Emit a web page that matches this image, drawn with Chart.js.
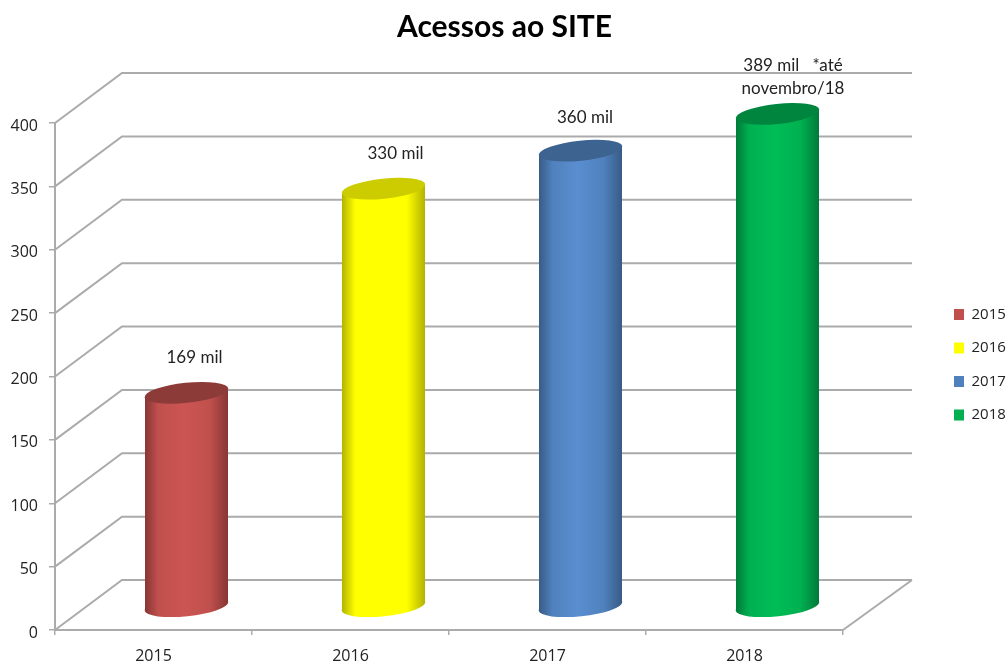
<!DOCTYPE html>
<html><head><meta charset="utf-8">
<style>html,body{margin:0;padding:0;background:#fff}#w{width:1008px;height:664px}</style>
<script src="https://cdn.jsdelivr.net/npm/chart.js@4"></script></head>
<body><div id="w"><canvas id="c" width="1008" height="664"></canvas></div>
<script>
const years = ['2015','2016','2017','2018'];
const values = [169,330,360,389];
const valueLabels = [['169 mil'],['330 mil'],['360 mil'],['389 mil   *até','novembro/18']];
const yTickStep = 50;
const yMax = 400;
const titleText = 'Acessos ao SITE';
const faceColors = ['#C0504D','#FFFF00','#4F81BD','#00B050'];
const lightColors = ['#CC5552','#FFFF00','#5A8ED0','#00BD58'];
const edgeColors = ['#873634','#B3B300','#385B86','#007A3A'];
const capColors = ['#8D3B39','#CCCC00','#3D6390','#00853F'];
const labelShift = [[8,-35],[12,-35],[4.5,-33],[15.5,-48]];

const DX = 67, DY = -50;            // depth of the back wall
const BX = 33, BY = -23;            // depth of the bars
const HALF = 41.5, CAP_A = 42, CAP_B = 10, CAP_ROT = -6*Math.PI/180, CHORD = 4;
const GRID = '#ABABAB', TXT = '#222222';

function sideGrad(ctx, cx, i){
  const g = ctx.createLinearGradient(cx-HALF,0,cx+HALF,0);
  g.addColorStop(0, edgeColors[i]);
  g.addColorStop(0.16, faceColors[i]);
  g.addColorStop(0.46, lightColors[i]);
  g.addColorStop(0.78, faceColors[i]);
  g.addColorStop(1, edgeColors[i]);
  return g;
}

const wall3d = {
  id:'wall3d',
  beforeDatasetsDraw(chart){
    const {ctx, scales:{x,y}} = chart, a = chart.chartArea;
    ctx.save();
    ctx.strokeStyle = GRID; ctx.lineWidth = 2; ctx.lineJoin='miter';
    y.ticks.forEach(t=>{
      const py = y.getPixelForValue(t.value);
      ctx.beginPath();
      ctx.moveTo(a.left,py);
      ctx.lineTo(a.left+DX,py+DY);
      ctx.lineTo(a.right+DX+2,py+DY);
      ctx.stroke();
    });
    const b = y.getPixelForValue(0);
    ctx.beginPath();
    ctx.moveTo(a.right,b);
    ctx.lineTo(a.right+DX+2,b+DY);
    ctx.stroke();
    ctx.restore();
  },
  beforeDatasetDraw(chart,args){
    const el = args.meta.data[args.index];
    const ctx = chart.ctx;
    ctx.save();
    ctx.translate(BX,BY);
    ctx.beginPath();
    ctx.moveTo(el.x-HALF,el.y+CHORD);
    ctx.lineTo(el.x+HALF,el.y-CHORD);
    ctx.lineTo(el.x+HALF,el.base-CHORD);
    ctx.lineTo(el.x-HALF,el.base+CHORD);
    ctx.closePath();
    ctx.clip();
  },
  afterDatasetDraw(chart,args){
    const i = args.index, el = args.meta.data[i], ctx = chart.ctx;
    ctx.restore();
    ctx.save();
    ctx.translate(BX,BY);
    ctx.fillStyle = sideGrad(ctx, el.x, i);
    ctx.beginPath();
    ctx.ellipse(el.x,el.base,CAP_A,CAP_B,CAP_ROT,0,Math.PI*2);
    ctx.fill();
    ctx.beginPath();
    ctx.moveTo(el.x-HALF,el.base-6);
    ctx.lineTo(el.x+HALF,el.base-6);
    ctx.lineTo(el.x+HALF,el.base-CHORD);
    ctx.lineTo(el.x-HALF,el.base+CHORD);
    ctx.closePath();
    ctx.fill();
    ctx.beginPath();
    ctx.moveTo(el.x-HALF,el.y+CHORD);
    ctx.lineTo(el.x+HALF,el.y-CHORD);
    ctx.lineTo(el.x+HALF,el.y+6);
    ctx.lineTo(el.x-HALF,el.y+6);
    ctx.closePath();
    ctx.fill();
    ctx.fillStyle = capColors[i];
    ctx.beginPath();
    ctx.ellipse(el.x,el.y,CAP_A,CAP_B,CAP_ROT,0,Math.PI*2);
    ctx.fill();
    ctx.restore();
  },
  afterDatasetsDraw(chart){
    const ctx = chart.ctx;
    ctx.save();
    ctx.fillStyle = TXT;
    ctx.font = '17px Lato';
    ctx.textAlign='center'; ctx.textBaseline='middle';
    values.forEach((v,i)=>{
      const el = chart.getDatasetMeta(i).data[i];
      const cx = el.x+BX+labelShift[i][0];
      const cy = el.y+BY+labelShift[i][1];
      valueLabels[i].forEach((s,k)=>ctx.fillText(s,cx,cy+k*23));
    });
    ctx.restore();
  },
  afterLayout(chart){
    const l = chart.legend;
    const pad = l.options.labels.padding;
    l.left = 954-pad; l.right = 1008;
    l.top = 307-pad; l.bottom = 664;
    chart.titleBlock.left = 0; chart.titleBlock.right = 1009;
  }
};

new Chart(document.getElementById('c'),{
  type:'bar',
  data:{
    labels:years,
    datasets:years.map((yr,i)=>({
      label:yr,
      data:values.map((v,k)=>k===i?v:null),
      clip:false,
      barThickness:HALF*2,
      borderWidth:0,
      backgroundColor(ctx){
        if(ctx.dataIndex===undefined || !ctx.chart.scales.x) return faceColors[i];
        const px = ctx.chart.scales.x.getPixelForValue(i);
        if(!isFinite(px)) return faceColors[i];
        return sideGrad(ctx.chart.ctx, px, i);
      }
    }))
  },
  plugins:[wall3d],
  options:{
    responsive:false,animation:false,
    layout:{padding:{left:0,right:165,top:0,bottom:0}},
    plugins:{
      tooltip:{enabled:false},
      title:{display:true,text:titleText,color:'#000',
        font:{family:'Lato',size:30,weight:'bold',lineHeight:1.2},
        padding:{top:9,bottom:78}},
      legend:{position:'chartArea',align:'start',
        labels:{boxWidth:10,boxHeight:11,padding:18.5,color:TXT,font:{family:'Open Sans',size:15},
          generateLabels(chart){
            const items = Chart.defaults.plugins.legend.labels.generateLabels(chart);
            items.forEach((it,i)=>{it.fillStyle=faceColors[i];it.lineWidth=0;});
            return items;
          }}}
    },
    scales:{
      x:{stacked:true,
        afterFit(s){s.height=34;},
        grid:{drawOnChartArea:false,drawTicks:true,tickLength:5,color:GRID,lineWidth:1.5},
        border:{color:GRID,width:2},
        ticks:{color:TXT,padding:12,font:{family:'Open Sans',size:16},maxRotation:0}},
      y:{stacked:true,min:0,max:yMax,
        afterFit(s){s.width=55;},
        grid:{drawOnChartArea:false,drawTicks:true,tickLength:6,color:GRID,lineWidth:1.5},
        border:{color:GRID,width:2},
        ticks:{color:TXT,padding:11,stepSize:yTickStep,labelOffset:3,font:{family:'Open Sans',size:16}}}
    }
  }
});
</script></body></html>
